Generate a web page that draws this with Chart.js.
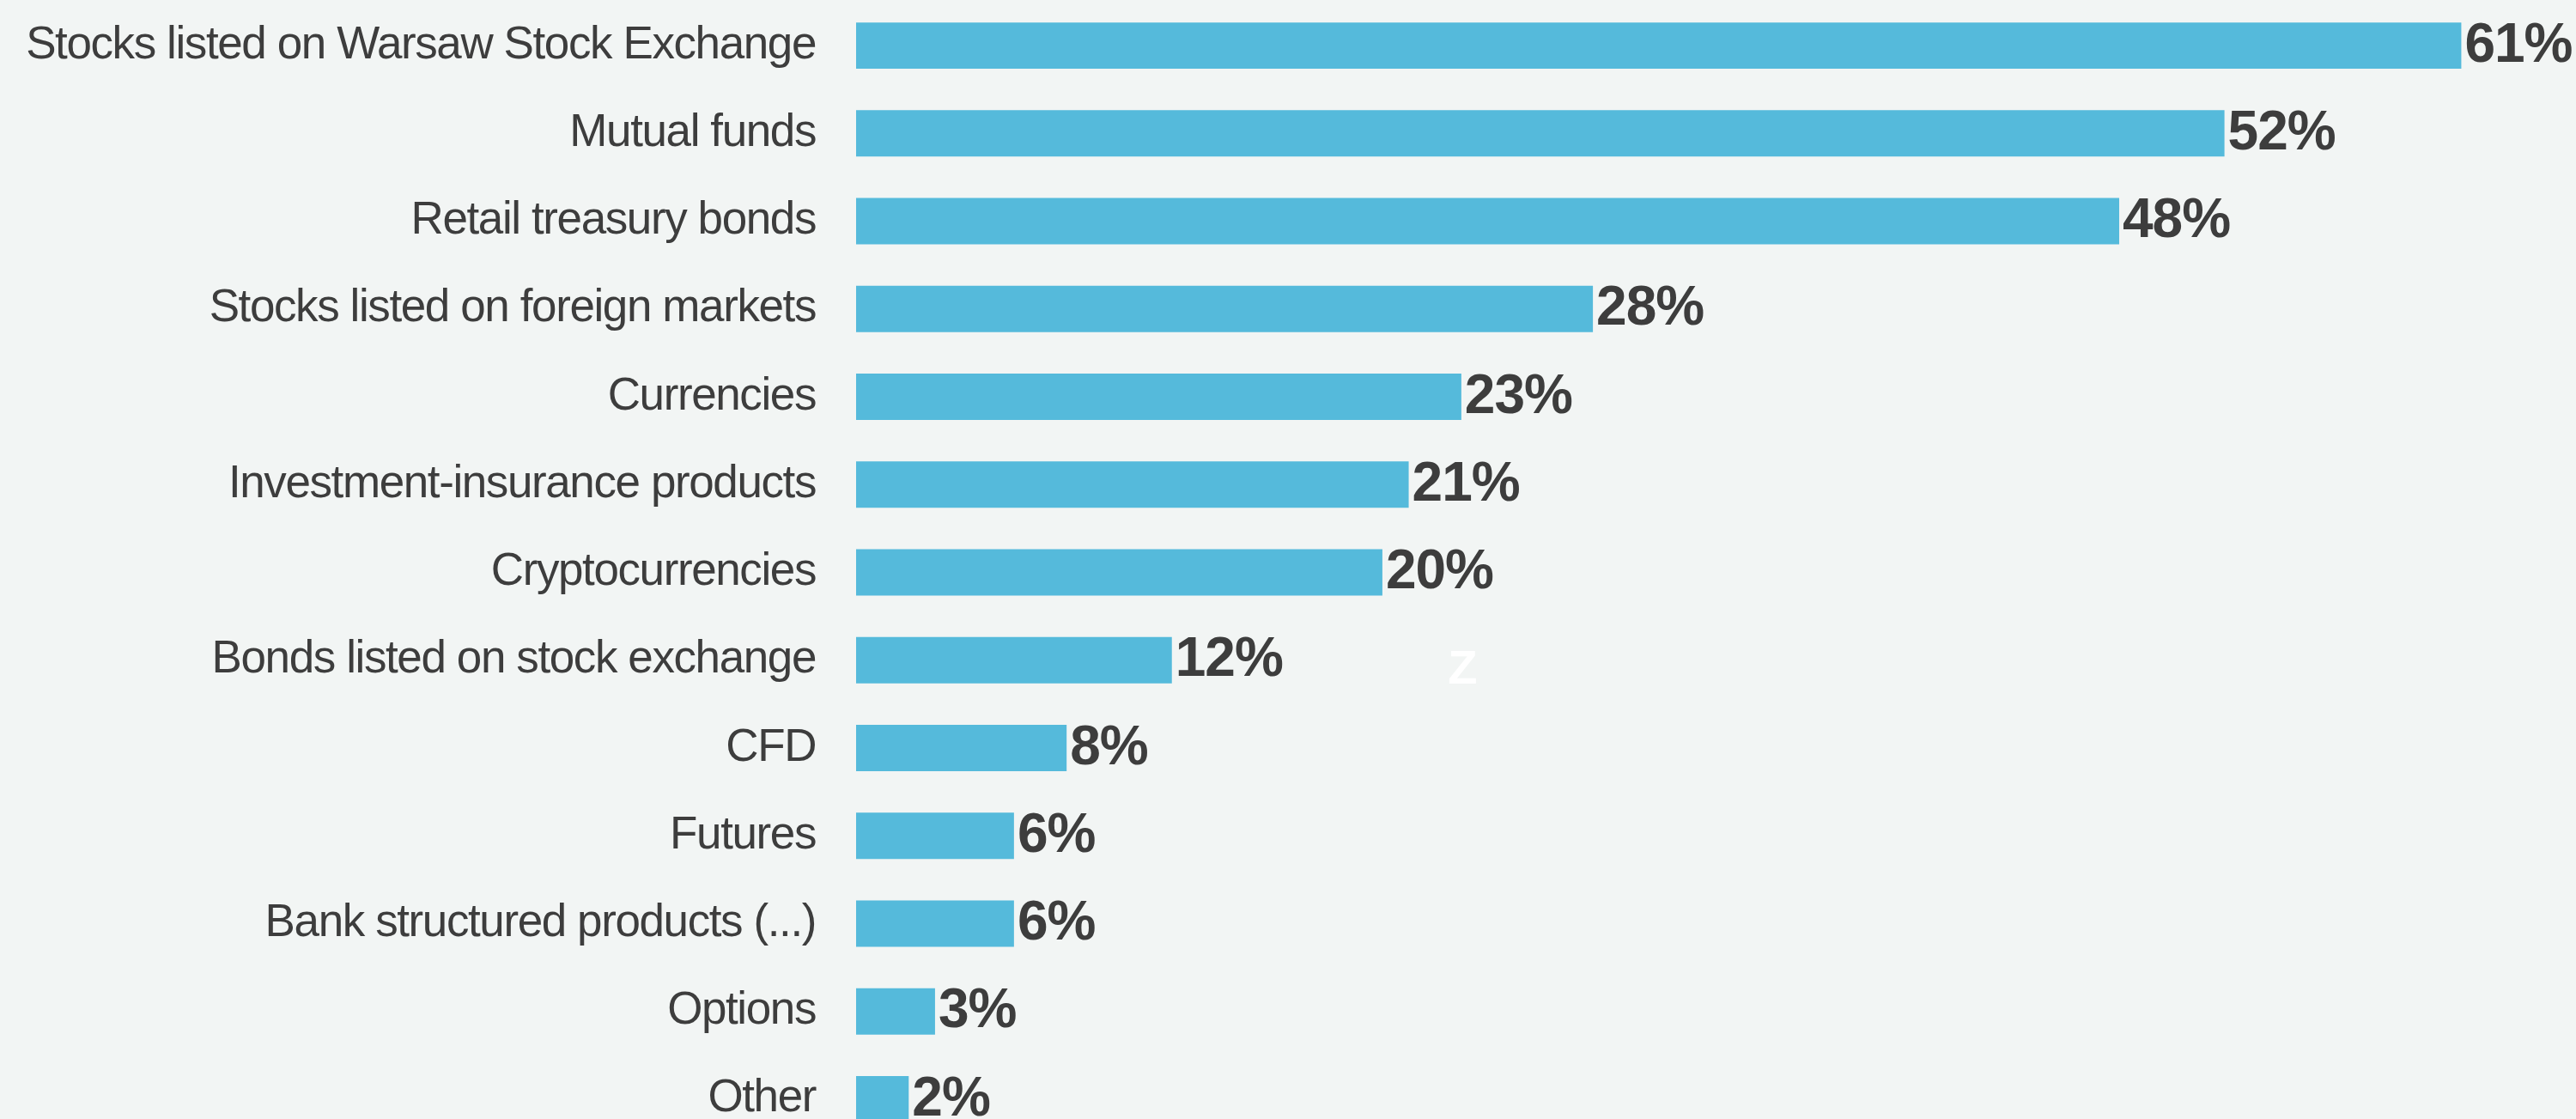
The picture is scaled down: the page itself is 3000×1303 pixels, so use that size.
<!DOCTYPE html>
<html>
<head>
<meta charset="utf-8">
<script src="https://cdn.jsdelivr.net/npm/chart.js@4.4.1/dist/chart.umd.min.js"></script>
<style>
  html, body { margin: 0; padding: 0; background: #F2F5F4; overflow: hidden; width: 3000px; height: 1303px; }
  #wrap { width: 3000px; height: 1331px; position: relative; }
  canvas { display: block; }
</style>
</head>
<body>
<div id="wrap"><canvas id="c" width="3000" height="1331"></canvas></div>
<script>
// ---- data ----
const categories = [
  "Stocks listed on Warsaw Stock Exchange",
  "Mutual funds",
  "Retail treasury bonds",
  "Stocks listed on foreign markets",
  "Currencies",
  "Investment-insurance products",
  "Cryptocurrencies",
  "Bonds listed on stock exchange",
  "CFD",
  "Futures",
  "Bank structured products (...)",
  "Options",
  "Other"
];
const shares = [61, 52, 48, 28, 23, 21, 20, 12, 8, 6, 6, 3, 2];
const valueSuffix = "%";
const axisMin = 0;
const axisMax = 65;

// ---- styles ----
const BAR_COLOR = "#55BADB";
const TEXT_COLOR = "#3D3D3D";
const FONT = "'Liberation Sans', Arial, Helvetica, sans-serif";

const valueLabels = {
  id: "valueLabels",
  afterDatasetsDraw(chart) {
    const ctx = chart.ctx;
    const meta = chart.getDatasetMeta(0);
    ctx.save();
    ctx.letterSpacing = "-1px";
    ctx.font = "bold 64px " + FONT;
    ctx.fillStyle = TEXT_COLOR;
    ctx.textAlign = "left";
    ctx.textBaseline = "middle";
    meta.data.forEach((bar, i) => {
      const v = chart.data.datasets[0].data[i];
      ctx.fillText(v + valueSuffix, bar.x + 4, bar.y + 1);
    });
    ctx.restore();
  }
};

const watermark = {
  id: "watermark",
  afterDraw(chart) {
    const ctx = chart.ctx;
    const a = chart.chartArea;
    ctx.save();
    ctx.font = "bold 56px " + FONT;
    ctx.fillStyle = "#FFFFFF";
    ctx.textAlign = "center";
    ctx.textBaseline = "middle";
    ctx.fillText("Z", a.left + (a.right - a.left) * 0.3542, a.top + (a.bottom - a.top) * 0.586);
    ctx.restore();
  }
};

const spacing = {
  id: "spacing",
  beforeDraw(chart) { chart.ctx.letterSpacing = "-1.4px"; },
  beforeUpdate(chart) { chart.ctx.letterSpacing = "-1.4px"; }
};

new Chart(document.getElementById("c"), {
  type: "bar",
  data: {
    labels: categories,
    datasets: [{
      data: shares,
      backgroundColor: BAR_COLOR,
      borderWidth: 0,
      barPercentage: 0.528,
      categoryPercentage: 1.0
    }]
  },
  options: {
    indexAxis: "y",
    responsive: false,
    animation: false,
    devicePixelRatio: 1,
    layout: { padding: { top: 2, right: 11, bottom: 0, left: 0 } },
    plugins: {
      legend: { display: false },
      tooltip: { enabled: false },
      title: { display: false }
    },
    scales: {
      x: {
        display: false,
        min: axisMin,
        max: axisMax,
        grid: { display: false }
      },
      y: {
        grid: { display: false, drawTicks: false },
        border: { display: false },
        ticks: {
          color: TEXT_COLOR,
          padding: 47,
          font: { family: FONT, size: 53, weight: "normal" },
          autoSkip: false
        },
        afterFit(scale) {
          scale.width = 997;
          scale.paddingTop = 0;
          scale.paddingBottom = 0;
        }
      }
    }
  },
  plugins: [spacing, valueLabels, watermark]
});
</script>
</body>
</html>
